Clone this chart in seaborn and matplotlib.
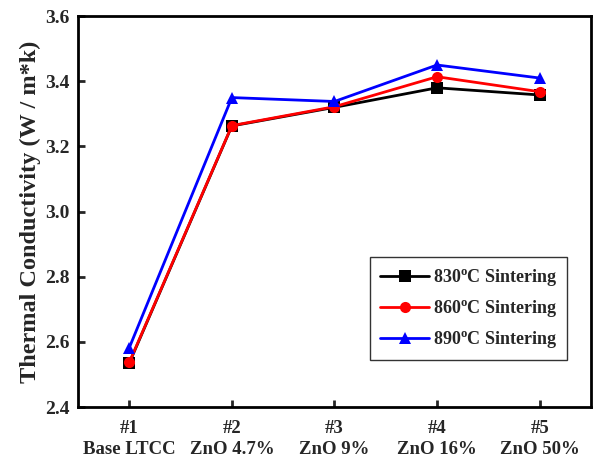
import matplotlib
matplotlib.use("Agg")
import matplotlib.pyplot as plt
import seaborn as sns
import pandas as pd

samples = ["#1\nBase LTCC", "#2\nZnO 4.7%", "#3\nZnO 9%", "#4\nZnO 16%", "#5\nZnO 50%"]
x_pos = [1, 2, 3, 4, 5]
t830 = [2.535, 3.263, 3.320, 3.380, 3.358]
t860 = [2.537, 3.264, 3.322, 3.414, 3.368]
t890 = [2.582, 3.350, 3.338, 3.450, 3.410]
series_names = ["830$^{\\rm o}$C Sintering", "860$^{\\rm o}$C Sintering", "890$^{\\rm o}$C Sintering"]

rows = []
for name, vals in zip(series_names, [t830, t860, t890]):
    for x, v in zip(x_pos, vals):
        rows.append({"x": x, "k": v, "series": name})
df = pd.DataFrame(rows)

sns.set_style("ticks")
plt.rcParams["font.family"] = ["Liberation Serif", "DejaVu Serif"]
plt.rcParams["font.weight"] = "bold"
plt.rcParams["mathtext.fontset"] = "custom"
plt.rcParams["mathtext.rm"] = "Liberation Serif:bold"
plt.rcParams["mathtext.it"] = "Liberation Serif:bold"
plt.rcParams["mathtext.bf"] = "Liberation Serif:bold"

fig = plt.figure(figsize=(5.93, 4.61), dpi=100)
ax = fig.add_axes([0.1315, 0.117, 0.865, 0.848])

palette = {series_names[0]: "black", series_names[1]: "red", series_names[2]: "blue"}
markers = {series_names[0]: "s", series_names[1]: "o", series_names[2]: "^"}
sns.lineplot(data=df, x="x", y="k", hue="series", style="series", palette=palette,
             markers=markers, dashes=False, linewidth=2, markersize=8,
             markeredgewidth=0, ax=ax)

ax.set_xlim(0.5, 5.5)
ax.set_ylim(2.4, 3.6)
ax.set_xticks(x_pos)
ax.set_xticklabels(samples, fontsize=13.5, fontweight="bold", linespacing=1.35)
ax.set_yticks([2.4, 2.6, 2.8, 3.0, 3.2, 3.4, 3.6])
ax.set_yticklabels(["2.4", "2.6", "2.8", "3.0", "3.2", "3.4", "3.6"], fontsize=14, fontweight="bold")
ax.tick_params(direction="in", length=5, width=2, pad=6)
ax.tick_params(axis="x", pad=9)
for s in ax.spines.values():
    s.set_linewidth(2)
    s.set_color("black")
ax.set_xlabel("")
ax.set_ylabel("Thermal Conductivity (W / m*k)", fontsize=17.5, fontweight="bold", labelpad=3)

leg = ax.legend(loc="lower right", bbox_to_anchor=(0.953, 0.12), fontsize=13,
                frameon=True, fancybox=False, handlelength=2.7, borderpad=0.55,
                labelspacing=0.55, handletextpad=0.2, borderaxespad=0)
leg.get_frame().set_edgecolor("black")
leg.get_frame().set_linewidth(1.0)
for t in leg.get_texts():
    t.set_fontweight("bold")

fig.savefig("out.png", dpi=100)
